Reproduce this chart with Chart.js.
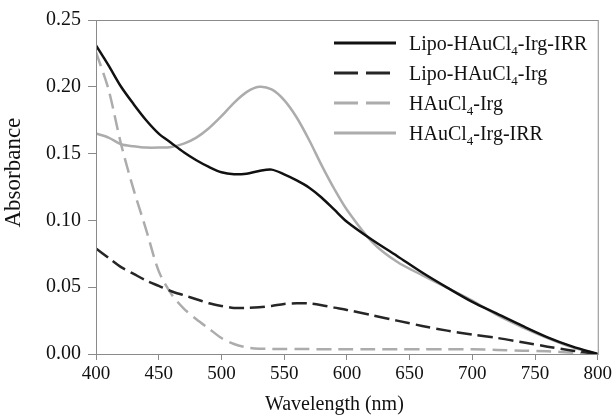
<!DOCTYPE html>
<html>
<head>
<meta charset="utf-8">
<script src="https://cdn.jsdelivr.net/npm/chart.js@4"></script>
<style>
  html, body { margin: 0; padding: 0; background: #fff; }
  #wrap { position: relative; width: 615px; height: 418px; }
  #legend { position: absolute; left: 334px; top: 28px; font-family: 'Liberation Serif', serif; font-size: 20px; color: #111; }
  #legend .row { height: 30px; display: flex; align-items: center; white-space: nowrap; }
  #legend svg { width: 62px; height: 6px; margin-right: 13px; }
  #legend sub { font-size: 13px; vertical-align: -5px; line-height: 0; }
</style>
</head>
<body>
<div id="wrap">
  <canvas id="chart" width="615" height="418"></canvas>
  <div id="legend"></div>
</div>
<script>
(function () {
    // wavelength grid (nm)
    const wavelengths = [400, 410, 420, 430, 440, 450, 460, 470, 480, 490, 500, 510, 520, 530, 540, 550,
        560, 570, 580, 590, 600, 620, 640, 660, 680, 700, 720, 740, 760, 780, 800];

    const lipoIrgIrr = [0.231, 0.216, 0.200, 0.187, 0.175, 0.165, 0.158, 0.151, 0.145, 0.140, 0.136, 0.1345,
        0.135, 0.137, 0.138, 0.1345, 0.130, 0.1245, 0.117, 0.108, 0.099, 0.0855, 0.0734, 0.061, 0.0497, 0.039,
        0.030, 0.021, 0.0125, 0.0055, 0.000];

    const lipoIrg = [0.079, 0.072, 0.065, 0.060, 0.055, 0.051, 0.047, 0.044, 0.041, 0.038, 0.036, 0.0345,
        0.0345, 0.035, 0.036, 0.0375, 0.038, 0.0378, 0.0365, 0.0347, 0.033, 0.029, 0.025, 0.021, 0.0175, 0.0145,
        0.012, 0.0088, 0.0055, 0.0025, 0.000];

    const hauIrg = [0.226, 0.198, 0.157, 0.123, 0.093, 0.062, 0.045, 0.034, 0.026, 0.019, 0.012, 0.0075,
        0.005, 0.004, 0.0038, 0.0037, 0.0037, 0.0037, 0.0036, 0.0036, 0.0036, 0.0036, 0.0035, 0.0035, 0.0035,
        0.0035, 0.003, 0.0025, 0.002, 0.001, 0.000];

    const hauIrgIrr = [0.165, 0.162, 0.157, 0.1555, 0.1545, 0.1545, 0.155, 0.1575, 0.162, 0.169, 0.178, 0.188,
        0.196, 0.200, 0.198, 0.190, 0.177, 0.160, 0.141, 0.1235, 0.108, 0.084, 0.069, 0.059, 0.0495, 0.040,
        0.029, 0.020, 0.012, 0.005, 0.000];

    const xTicks = [400, 450, 500, 550, 600, 650, 700, 750, 800];
    const yTicks = [0, 0.05, 0.10, 0.15, 0.20, 0.25];

    function pts(values) {
        return wavelengths.map(function (w, i) { return { x: w, y: values[i] }; });
    }

    const axisColor = '#8a8a8a';
    const fontFamily = "'Liberation Serif', serif";

    const frame = {
        id: 'frame',
        afterDraw: function (chart) {
            const a = chart.chartArea;
            const ctx = chart.ctx;
            ctx.save();
            ctx.strokeStyle = axisColor;
            ctx.lineWidth = 1;
            ctx.strokeRect(a.left + 0.5, a.top + 0.5, a.right - a.left, a.bottom - a.top);
            ctx.restore();
        }
    };

    const ctx = document.getElementById('chart');
    const chart = new Chart(ctx, {
        type: 'line',
        data: {
            datasets: [{
                label: 'Lipo-HAuCl4-Irg-IRR',
                data: pts(lipoIrgIrr),
                borderColor: '#111111',
                borderWidth: 2.5,
                legendDash: []
            }, {
                label: 'Lipo-HAuCl4-Irg',
                data: pts(lipoIrg),
                borderColor: '#262626',
                borderWidth: 2.5,
                borderDash: [15, 6],
                legendDash: [24, 8]
            }, {
                label: 'HAuCl4-Irg',
                data: pts(hauIrg),
                borderColor: '#acacac',
                borderWidth: 2.5,
                borderDash: [15, 7],
                legendDash: [24, 8]
            }, {
                label: 'HAuCl4-Irg-IRR',
                data: pts(hauIrgIrr),
                borderColor: '#acacac',
                borderWidth: 2.5,
                legendDash: []
            }]
        },
        options: {
            responsive: false,
            animation: false,
            layout: { padding: { top: 20, right: 14, left: 0, bottom: 0 } },
            elements: {
                point: { radius: 0 },
                line: { tension: 0.3, fill: false }
            },
            plugins: {
                legend: { display: false },
                tooltip: { enabled: false }
            },
            scales: {
                x: {
                    type: 'linear',
                    min: 400,
                    max: 800,
                    afterFit: function (s) { s.height = 64; },
                    afterBuildTicks: function (s) { s.ticks = xTicks.map(function (v) { return { value: v }; }); },
                    grid: { display: true, drawOnChartArea: false, drawTicks: true, tickLength: 6, color: axisColor },
                    border: { color: axisColor },
                    ticks: { color: '#111', font: { family: fontFamily, size: 19 }, padding: 3, maxRotation: 0 },
                    title: { display: true, text: 'Wavelength (nm)\u00a0\u00a0\u00a0\u00a0\u00a0', color: '#111', font: { family: fontFamily, size: 20 }, padding: { top: 2, bottom: 1 } }
                },
                y: {
                    min: 0,
                    max: 0.25,
                    afterFit: function (s) { s.width = 96; },
                    afterBuildTicks: function (s) { s.ticks = yTicks.map(function (v) { return { value: v }; }); },
                    grid: { display: true, drawOnChartArea: false, drawTicks: true, tickLength: 8, color: axisColor },
                    border: { color: axisColor },
                    ticks: {
                        color: '#111', font: { family: fontFamily, size: 20 }, padding: 7,
                        callback: function (v) { return v.toFixed(2); }
                    },
                    title: { display: true, text: '\u00a0\u00a0\u00a0\u00a0\u00a0Absorbance', color: '#111', font: { family: fontFamily, size: 23 }, padding: { top: 0, bottom: 0 } }
                }
            }
        },
        plugins: [frame]
    });

    // html legend so the "4" can be a real subscript
    const legend = document.getElementById('legend');
    chart.data.datasets.forEach(function (ds) {
        const row = document.createElement('div');
        row.className = 'row';
        const dash = ds.legendDash.length ? ' stroke-dasharray="' + ds.legendDash.join(' ') + '"' : '';
        row.innerHTML = '<svg viewBox="0 0 62 6"><line x1="0" y1="3" x2="62" y2="3" stroke="' + ds.borderColor +
            '" stroke-width="3"' + dash + '/></svg><span>' + ds.label.replace('Cl4', 'Cl<sub>4</sub>') + '</span>';
        legend.appendChild(row);
    });
})();
</script>
</body>
</html>
